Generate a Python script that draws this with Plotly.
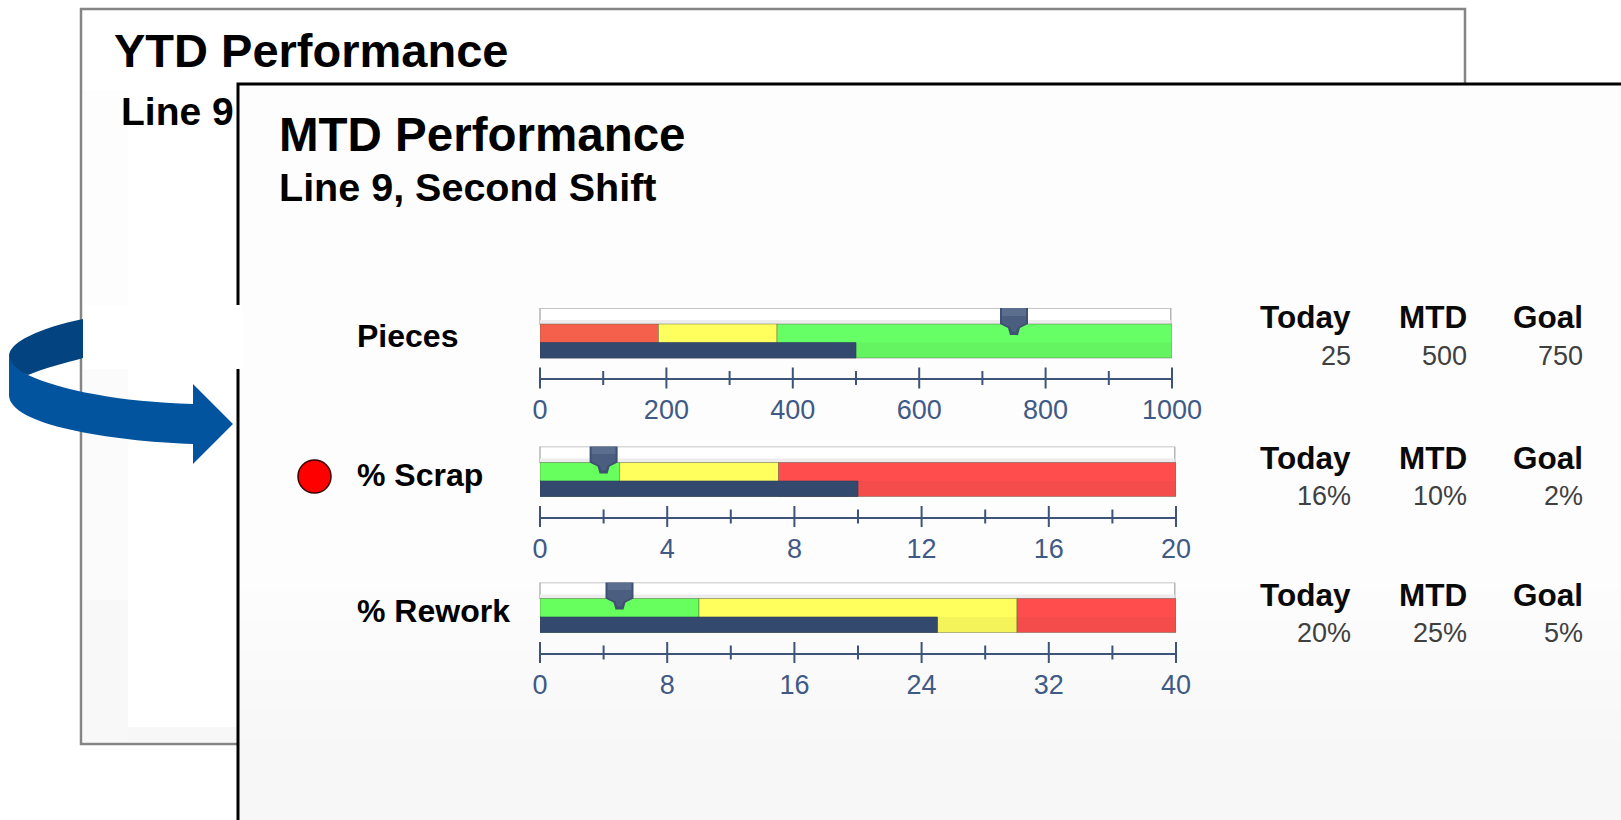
import plotly.graph_objects as go

W, H = 1621, 820

# Scorecard data
categories = ["Pieces", "% Scrap", "% Rework"]
axis_max = [1000, 20, 40]
major_ticks = [[0, 200, 400, 600, 800, 1000], [0, 4, 8, 12, 16, 20], [0, 8, 16, 24, 32, 40]]
minor_ticks = [[100, 300, 500, 700, 900], [2, 6, 10, 14, 18], [4, 12, 20, 28, 36]]
band_stops = [[0, 187.5, 375, 1000], [0, 2.5, 7.5, 20], [0, 10, 30, 40]]
band_colors = [["#f4604c", "#ffff5e", "#66ff66"],
               ["#66ff5e", "#ffff5e", "#ff4d4d"],
               ["#66ff5e", "#ffff5e", "#ff4d4d"]]
mtd_values = [500, 10, 25]
goal_values = [750, 2, 5]
today_labels = ["25", "16%", "20%"]
mtd_labels = ["500", "10%", "25%"]
goal_labels = ["750", "2%", "5%"]
table_headers = ["Today", "MTD", "Goal"]

# Page layout, in pixels
axis_left = [540, 540, 540]
axis_right = [1172, 1176, 1176]
axis_y = [378, 516.5, 652.5]
row_height = 70
band_low, band_high = 20, 54
measure_high = 35.5
label_y = [336, 475, 611]
header_y = [317, 458, 594.5]
value_y = [356, 496, 632.5]
column_right = [1353, 1469, 1585]

NAVY = "#34496e"
SCALE_BLUE = "#3d5478"
TICK_BLUE = "#3f5a85"
SANS = "Liberation Sans"


def fx(x):
    return x / W


def fy(y):
    return 1 - y / H


def rect(x0, y0, x1, y1, fill, line=None, width=0):
    return dict(type="rect", xref="paper", yref="paper", layer="below",
                x0=fx(x0), x1=fx(x1), y0=fy(y0), y1=fy(y1),
                fillcolor=fill, line=dict(color=line or fill, width=width))


def page_path(points, fill):
    parts = []
    for cmd, *xy in points:
        coords = " ".join(f"{fx(xy[i]):.5f},{fy(xy[i + 1]):.5f}" for i in range(0, len(xy), 2))
        parts.append(f"{cmd} {coords}")
    return dict(type="path", xref="paper", yref="paper", layer="below",
                path=" ".join(parts) + " Z", fillcolor=fill, line=dict(width=0))


shapes = []

# Year-to-date sheet behind
shapes.append(rect(81, 9, 1465, 744, "#ffffff", "#858585", 2.5))
shapes.append(rect(83, 90, 128, 305, "#fdfdfd"))
shapes.append(rect(83, 369, 128, 600, "#fbfbfb"))
shapes.append(rect(83, 600, 128, 742, "#f8f8f8"))
shapes.append(rect(128, 727, 238, 742, "#f7f7f7"))

# Month-to-date sheet in front, fading to a light grey at the bottom
shapes.append(rect(238, 84, W + 10, H + 10, "#fdfdfd", "#000000", 3))
for i, shade in enumerate(["#fcfcfc", "#fbfbfb", "#fafafa", "#f9f9f9", "#f8f8f8", "#f7f7f7"]):
    shapes.append(rect(240, 590 + i * 30, W, H if i == 5 else 620 + i * 30, shade))
shapes.append(rect(83, 305, 243, 369, "#ffffff"))

# Curved arrow from the back sheet to the front one
shapes.append(page_path([("M", 83, 319), ("C", 40, 328, 9, 342, 9, 356),
                         ("C", 9, 364, 18, 372, 28, 375), ("C", 45, 368, 65, 363, 83, 358)], "#03437f"))
shapes.append(page_path([("M", 9, 356), ("C", 11, 364, 18, 371, 28, 375),
                         ("C", 60, 390, 120, 402, 193, 404), ("L", 193, 384), ("L", 233, 424),
                         ("L", 193, 464), ("L", 193, 444), ("C", 110, 441, 9, 425, 9, 395)], "#02549f"))

# Status light on the scrap row
shapes.append(dict(type="circle", xref="paper", yref="paper", layer="below",
                   x0=fx(298), x1=fx(331), y0=fy(460), y1=fy(493),
                   fillcolor="#ff0000", line=dict(color="#3a0000", width=1.5)))

traces = []
layout_axes = {}
annotations = []

# Goal pointer outline and its lighter inner layers, in pixels around the anchor
pointer_layers = [("M -14,2 L 14,2 L 14,-16 L 6,-20 L 4,-27 L -4,-27 L -6,-20 L -14,-16 Z", "#3f5172"),
                  ("M -12,0 L 12,0 L 12,-8 L -12,-8 Z", "#5c6e8e"),
                  ("M -12,-8 L 12,-8 L 12,-15 L 4,-19 L 2,-24 L -2,-24 L -4,-19 L -12,-15 Z", "#4c5e7f")]

for r, name in enumerate(categories):
    suffix = "" if r == 0 else str(r + 1)
    xid, yid = "x" + suffix, "y" + suffix
    top = axis_y[r] - row_height

    layout_axes["xaxis" + suffix] = dict(
        domain=[fx(axis_left[r]), fx(axis_right[r])], range=[0, axis_max[r]], anchor=yid,
        automargin=False, showgrid=False, zeroline=False, showline=True,
        linecolor=SCALE_BLUE, linewidth=2,
        tickmode="array", tickvals=major_ticks[r], ticks="outside", ticklen=7,
        tickcolor="rgba(0,0,0,0)", tickfont=dict(family=SANS, size=27, color=TICK_BLUE),
    )
    layout_axes["yaxis" + suffix] = dict(
        domain=[fy(axis_y[r]), fy(top)], range=[0, row_height], anchor=xid,
        automargin=False, visible=False,
    )

    # Empty track above the qualitative bands, shaded along its lower edge
    shapes.append(dict(type="rect", xref=xid + " domain", yref=yid, layer="below",
                       x0=0, x1=0.998, y0=band_high, y1=row_height,
                       fillcolor="#ffffff", line=dict(color="#b4b4b4", width=1.5)))
    shapes.append(dict(type="rect", xref=xid + " domain", yref=yid, layer="below",
                       x0=0, x1=0.998, y0=band_high, y1=band_high + 4,
                       fillcolor="#ececec", line=dict(width=0)))

    # Qualitative bands
    stops = band_stops[r]
    for i in range(3):
        traces.append(go.Bar(
            orientation="h", xaxis=xid, yaxis=yid, y=[(band_low + band_high) / 2],
            base=[stops[i]], x=[stops[i + 1] - stops[i]], width=[band_high - band_low],
            marker=dict(color=band_colors[r][i], line=dict(color="rgba(90,90,70,0.55)", width=0.8)),
            showlegend=False, hoverinfo="skip",
        ))

    # Slightly darker lower half of the bands
    traces.append(go.Bar(
        orientation="h", xaxis=xid, yaxis=yid, y=[(band_low + measure_high) / 2],
        base=[0], x=[axis_max[r]], width=[measure_high - band_low],
        marker=dict(color="rgba(60,60,40,0.06)", line=dict(width=0)),
        showlegend=False, hoverinfo="skip",
    ))

    # Month-to-date measure
    traces.append(go.Bar(
        orientation="h", xaxis=xid, yaxis=yid, y=[(band_low + measure_high) / 2],
        base=[0], x=[mtd_values[r]], width=[measure_high - band_low],
        marker=dict(color=NAVY, line=dict(color="#2a3c5c", width=0.6)),
        showlegend=False, hoverinfo="skip",
    ))

    # Crossing tick marks on the scale
    traces.append(go.Scatter(
        x=major_ticks[r], y=[0] * len(major_ticks[r]), xaxis=xid, yaxis=yid, mode="markers",
        cliponaxis=False, showlegend=False, hoverinfo="skip",
        marker=dict(symbol="line-ns", size=15, line=dict(color=SCALE_BLUE, width=2)),
    ))
    traces.append(go.Scatter(
        x=minor_ticks[r], y=[0] * len(minor_ticks[r]), xaxis=xid, yaxis=yid, mode="markers",
        cliponaxis=False, showlegend=False, hoverinfo="skip",
        marker=dict(symbol="line-ns", size=10, line=dict(color=SCALE_BLUE, width=2)),
    ))

    # Goal pointer, anchored on the goal value
    for path, fill in pointer_layers:
        shapes.append(dict(type="path", layer="above", xref=xid, yref=yid,
                           xsizemode="pixel", ysizemode="pixel",
                           xanchor=goal_values[r], yanchor=row_height,
                           path=path, fillcolor=fill, line=dict(width=0)))

    # Row label
    annotations.append(dict(text=f"<b>{name}</b>", x=fx(355), y=fy(label_y[r]), xanchor="left", yanchor="middle",
                            font=dict(family=SANS, size=32, color="#000000")))

    # Today / MTD / Goal figures
    row_values = [today_labels[r], mtd_labels[r], goal_labels[r]]
    for c in range(3):
        annotations.append(dict(text=f"<b>{table_headers[c]}</b>", x=fx(column_right[c]), y=fy(header_y[r]),
                                xanchor="right", yanchor="middle",
                                font=dict(family=SANS, size=31.5, color="#0a0a0a")))
        annotations.append(dict(text=row_values[c], x=fx(column_right[c]), y=fy(value_y[r]),
                                xanchor="right", yanchor="middle",
                                font=dict(family=SANS, size=27, color="#404040")))

# Sheet titles
for text, x, y, size in [("YTD Performance", 112, 50, 47), ("Line 9", 119, 111, 39),
                         ("MTD Performance", 277, 134.5, 47.5), ("Line 9, Second Shift", 277, 187, 39.5)]:
    annotations.append(dict(text=f"<b>{text}</b>", x=fx(x), y=fy(y), xanchor="left", yanchor="middle",
                            font=dict(family=SANS, size=size, color="#000000")))
for a in annotations:
    a.update(xref="paper", yref="paper", showarrow=False)

fig = go.Figure(traces)
fig.update_layout(
    width=W, height=H, autosize=False, margin=dict(l=0, r=0, t=0, b=0),
    paper_bgcolor="#ffffff", plot_bgcolor="rgba(0,0,0,0)", barmode="overlay",
    showlegend=False, shapes=shapes, annotations=annotations, **layout_axes,
)
fig.write_html("out.html", config=dict(displayModeBar=False))
